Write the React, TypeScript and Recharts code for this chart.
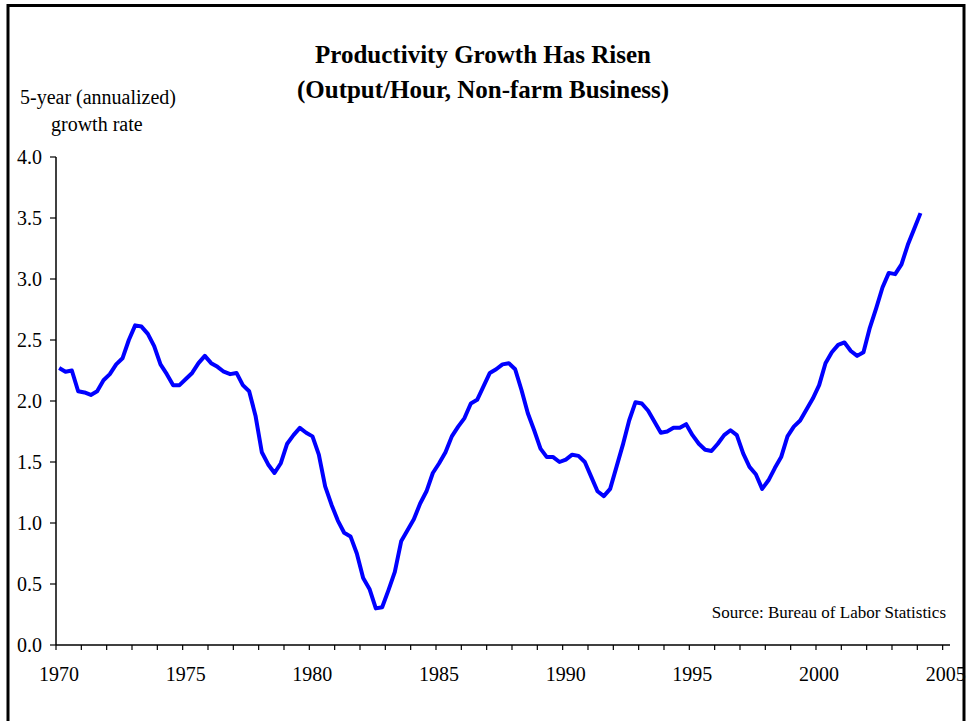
import React from 'react';
import { LineChart, Line, XAxis, YAxis } from 'recharts';

// 5-year annualized growth of output per hour, quarterly from 1970 Q1
const seventies = [
  2.27, 2.24, 2.25, 2.08, 2.07, 2.05, 2.08, 2.17, 2.22, 2.30,
  2.35, 2.50, 2.62, 2.61, 2.55, 2.45, 2.30, 2.22, 2.13, 2.13,
  2.18, 2.23, 2.31, 2.37, 2.31, 2.28, 2.24, 2.22, 2.23, 2.13,
  2.08, 1.88, 1.58, 1.48, 1.41, 1.49, 1.65, 1.72, 1.78, 1.74,
];
const eighties = [
  1.71, 1.56, 1.30, 1.15, 1.02, 0.92, 0.89, 0.75, 0.55, 0.46,
  0.30, 0.31, 0.45, 0.60, 0.85, 0.94, 1.03, 1.16, 1.26, 1.41,
  1.49, 1.58, 1.71, 1.79, 1.86, 1.98, 2.01, 2.12, 2.23, 2.26,
  2.30, 2.31, 2.26, 2.09, 1.90, 1.76, 1.61, 1.54, 1.54, 1.50,
];
const nineties = [
  1.52, 1.56, 1.55, 1.50, 1.38, 1.26, 1.22, 1.28, 1.46, 1.64,
  1.84, 1.99, 1.98, 1.92, 1.83, 1.74, 1.75, 1.78, 1.78, 1.81,
  1.72, 1.65, 1.60, 1.59, 1.65, 1.72, 1.76, 1.72, 1.57, 1.46,
  1.40, 1.28, 1.35, 1.45, 1.54, 1.71, 1.79, 1.84, 1.93, 2.02,
];
const twoThousands = [
  2.13, 2.31, 2.40, 2.46, 2.48, 2.41, 2.37, 2.40, 2.60, 2.76,
  2.93, 3.05, 3.04, 3.12, 3.28, 3.41, 3.54,
];

const firstYear = 1970;
const labelYears = [1970, 1975, 1980, 1985, 1990, 1995, 2000, 2005];
const yTicks = [0, 0.5, 1, 1.5, 2, 2.5, 3, 3.5, 4];

const growth = [...seventies, ...eighties, ...nineties, ...twoThousands];
// each quarter sits in the middle of its slot
const data = growth.map((rate, i) => ({ year: firstYear + (i + 0.5) / 4, rate }));
const yearTicks = Array.from({ length: 36 }, (_, i) => firstYear + i);

const FONT = '"Liberation Serif", "Times New Roman", serif';

const XTick = (props: any) => {
  const { x, y, payload } = props;
  if (!labelYears.includes(payload.value)) return null;
  return (
    <text x={x + 3} y={y + 29} textAnchor="middle" fontSize={20} fontFamily={FONT} fill="#000">
      {payload.value}
    </text>
  );
};

const YTick = (props: any) => {
  const { x, y, payload } = props;
  return (
    <text x={x} y={y + 7} textAnchor="end" fontSize={20} fontFamily={FONT} fill="#000">
      {payload.value.toFixed(1)}
    </text>
  );
};

export default function App() {
  return (
    <div style={{ position: 'absolute', left: 0, top: 0, width: 967, height: 721, background: '#fff', overflow: 'hidden' }}>
      <LineChart width={967} height={721} data={data} margin={{ top: 157, right: 17, bottom: 46, left: 0 }}>
        <XAxis
          dataKey="year"
          type="number"
          domain={[1970, 2005.29]}
          ticks={yearTicks}
          interval={0}
          tickSize={5}
          tick={<XTick />}
          axisLine={{ stroke: '#000', strokeWidth: 1.5 }}
          tickLine={{ stroke: '#000', strokeWidth: 1.2 }}
          height={30}
        />
        <YAxis
          type="number"
          domain={[0, 4]}
          ticks={yTicks}
          interval={0}
          width={56}
          tickSize={6}
          tickMargin={8}
          tick={<YTick />}
          axisLine={{ stroke: '#000', strokeWidth: 1.5 }}
          tickLine={{ stroke: '#000', strokeWidth: 1.2 }}
        />
        <Line
          type="linear"
          dataKey="rate"
          stroke="#0000FF"
          strokeWidth={4}
          strokeLinejoin="round"
          dot={false}
          isAnimationActive={false}
        />
      </LineChart>
      <svg width={967} height={721} style={{ position: 'absolute', left: 0, top: 0, pointerEvents: 'none' }}>
        <rect x={8} y={5.5} width={956} height={800} fill="none" stroke="#000" strokeWidth={3} />
        <text x={483} y={63} textAnchor="middle" fontSize={25} fontWeight="bold" fontFamily={FONT}>
          Productivity Growth Has Risen
        </text>
        <text x={483} y={98} textAnchor="middle" fontSize={25} fontWeight="bold" fontFamily={FONT}>
          (Output/Hour, Non-farm Business)
        </text>
        <text x={20} y={104} fontSize={20} fontFamily={FONT}>5-year (annualized)</text>
        <text x={51} y={131} fontSize={20} fontFamily={FONT}>growth rate</text>
        <text x={946} y={618} textAnchor="end" fontSize={17} fontFamily={FONT}>
          Source: Bureau of Labor Statistics
        </text>
      </svg>
    </div>
  );
}
